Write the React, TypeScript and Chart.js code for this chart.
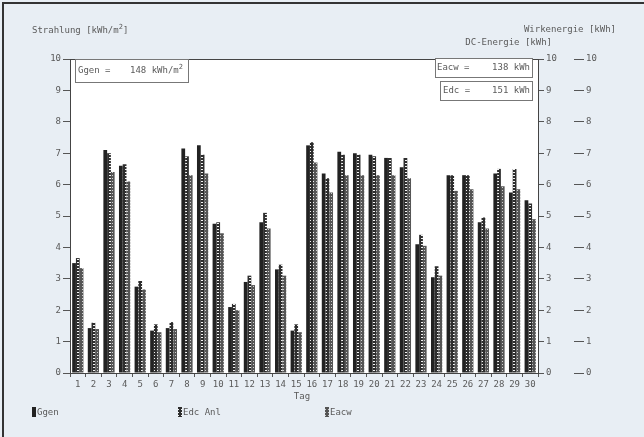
import React, { useEffect, useRef } from "react";
import { Chart, registerables } from "chart.js";

Chart.register(...registerables);

const days = Array.from({ length: 30 }, (_, i) => String(i + 1));
const ggen = [3.5, 1.43, 7.1, 6.6, 2.75, 1.35, 1.43, 7.15, 7.25, 4.75, 2.1, 2.9, 4.8, 3.3, 1.35, 7.25, 6.35, 7.05, 7.0, 6.95, 6.85, 6.55, 4.1, 3.05, 6.3, 6.3, 4.8, 6.35, 5.75, 5.5];
const edcAnl = [3.66, 1.6, 7.0, 6.65, 2.93, 1.55, 1.62, 6.9, 6.95, 4.8, 2.2, 3.1, 5.1, 3.45, 1.55, 7.35, 6.2, 6.95, 6.95, 6.9, 6.85, 6.85, 4.4, 3.4, 6.3, 6.3, 4.95, 6.5, 6.5, 5.4];
const eacw = [3.34, 1.4, 6.4, 6.1, 2.66, 1.3, 1.4, 6.3, 6.35, 4.45, 2.0, 2.8, 4.6, 3.1, 1.3, 6.7, 5.75, 6.3, 6.3, 6.3, 6.3, 6.2, 4.05, 3.1, 5.8, 5.85, 4.6, 5.95, 5.85, 4.9];

const FONT = "'DejaVu Sans Mono', monospace";
const TXT = "#5a5a5a";
const BG = "#e8eef4";

function makePattern(base: string, hole: string, w: number, h: number) {
  const c = document.createElement("canvas");
  c.width = w;
  c.height = h;
  const g = c.getContext("2d")!;
  g.fillStyle = base;
  g.fillRect(0, 0, w, h);
  g.fillStyle = hole;
  g.fillRect(1, 1, w - 2, h - 2);
  return g.createPattern(c, "repeat")!;
}

const overlay = {
  id: "overlay",
  beforeDraw(chart: any) {
    const { ctx, chartArea: a } = chart;
    ctx.save();
    ctx.fillStyle = BG;
    ctx.fillRect(0, 0, chart.width, chart.height);
    ctx.strokeStyle = "#333";
    ctx.lineWidth = 2;
    ctx.beginPath();
    ctx.moveTo(3, 437);
    ctx.lineTo(3, 3);
    ctx.lineTo(644, 3);
    ctx.stroke();
    ctx.fillStyle = "#fff";
    ctx.fillRect(a.left, a.top, a.right - a.left, a.bottom - a.top);
    ctx.restore();
  },
  afterDraw(chart: any) {
    const { ctx, chartArea: a } = chart;
    ctx.save();
    ctx.strokeStyle = "#444";
    ctx.lineWidth = 1;
    ctx.strokeRect(a.left + 0.5, a.top + 0.5, a.right - a.left, a.bottom - a.top);

    ctx.font = `9px ${FONT}`;
    ctx.fillStyle = TXT;
    ctx.textBaseline = "middle";

    const sup = (x: number, y: number, before: string, after: string, align: "left" | "right") => {
      const w1 = ctx.measureText(before).width;
      ctx.font = `7px ${FONT}`;
      const ws = ctx.measureText("2").width;
      ctx.font = `9px ${FONT}`;
      const w2 = ctx.measureText(after).width;
      const total = w1 + ws + w2;
      const x0 = align === "left" ? x : x - total;
      ctx.textAlign = "left";
      ctx.fillText(before, x0, y);
      ctx.font = `7px ${FONT}`;
      ctx.fillText("2", x0 + w1, y - 4);
      ctx.font = `9px ${FONT}`;
      ctx.fillText(after, x0 + w1 + ws, y);
    };

    // axis titles
    sup(32, 31, "Strahlung [kWh/m", "]", "left");
    ctx.textAlign = "right";
    ctx.fillText("Wirkenergie [kWh]", 616, 30);
    ctx.fillText("DC-Energie [kWh]", 552, 43);
    ctx.textAlign = "center";
    ctx.fillText("Tag", 302, 397);

    // info boxes
    const box = (x: number, y: number, w: number, h: number) => {
      ctx.fillStyle = "#fff";
      ctx.fillRect(x, y, w, h);
      ctx.strokeStyle = "#777";
      ctx.strokeRect(x + 0.5, y + 0.5, w, h);
      ctx.fillStyle = TXT;
    };
    box(75, 59, 113, 23);
    ctx.textAlign = "left";
    ctx.fillText("Ggen =", 78, 71);
    sup(183, 71, "148 kWh/m", "", "right");
    box(435, 58, 97, 19);
    ctx.textAlign = "left";
    ctx.fillText("Eacw =", 437, 68);
    ctx.textAlign = "right";
    ctx.fillText("138 kWh", 530, 68);
    box(440, 81, 92, 19);
    ctx.textAlign = "left";
    ctx.fillText("Edc =", 443, 91);
    ctx.textAlign = "right";
    ctx.fillText("151 kWh", 530, 91);

    // legend
    const pats = chart.data.datasets.map((d: any) => d.backgroundColor);
    const leg = [
      { x: 32, t: "Ggen" },
      { x: 178, t: "Edc Anl" },
      { x: 325, t: "Eacw" },
    ];
    leg.forEach((l, i) => {
      ctx.fillStyle = pats[i];
      ctx.fillRect(l.x, 407, 4, 10);
      ctx.fillStyle = TXT;
      ctx.textAlign = "left";
      ctx.fillText(l.t, l.x + 5, 413);
    });
    ctx.restore();
  },
};

export default function App() {
  const ref = useRef<HTMLCanvasElement>(null);
  useEffect(() => {
    const canvas = ref.current!;
    const ctx = canvas.getContext("2d")!;
    const pGgen = "#222";
    const pEdc = makePattern("#2e2e2e", "#f4f4f4", 4, 3);
    const pEacw = makePattern("#555", "#cfcfcf", 3, 3);

    const yScale = (position: "left" | "right", width: number, tickLen: number, border: boolean, weight: number) => ({
      type: "linear" as const,
      position,
      weight,
      min: 0,
      max: 10,
      afterFit: (s: any) => {
        s.width = width;
      },
      border: { display: border, color: "#444" },
      grid: { drawOnChartArea: false, drawTicks: true, tickLength: tickLen, color: "#555" },
      ticks: { stepSize: 1, color: TXT, font: { family: FONT, size: 9 }, padding: 2 },
    });

    const chart = new Chart(ctx, {
      type: "bar",
      data: {
        labels: days,
        datasets: [
          { label: "Ggen", data: ggen, backgroundColor: pGgen as any, yAxisID: "y" },
          { label: "Edc Anl", data: edcAnl, backgroundColor: pEdc as any, yAxisID: "y" },
          { label: "Eacw", data: eacw, backgroundColor: pEacw as any, yAxisID: "y" },
        ],
      },
      options: {
        responsive: false,
        animation: false,
        layout: { padding: { top: 59, left: 0, right: 0, bottom: 0 } },
        datasets: { bar: { categoryPercentage: 0.72, barPercentage: 1.0 } },
        plugins: { legend: { display: false }, tooltip: { enabled: false } },
        scales: {
          x: {
            afterFit: (s: any) => {
              s.height = 64;
            },
            border: { display: true, color: "#444" },
            grid: { drawOnChartArea: false, drawTicks: true, tickLength: 4, color: "#555" },
            ticks: { color: TXT, font: { family: FONT, size: 9 }, padding: 2, maxRotation: 0, autoSkip: false },
          },
          y: yScale("left", 70, 7, true, 0),
          y1: yScale("right", 36, 6, true, 0),
          y2: yScale("right", 70, 10, false, 1),
        } as any,
      },
      plugins: [overlay],
    });
    return () => chart.destroy();
  }, []);

  return (
    <div style={{ position: "fixed", left: 0, top: 0, width: 644, height: 437, background: BG }}>
      <canvas ref={ref} width={644} height={437} style={{ display: "block" }} />
    </div>
  );
}
